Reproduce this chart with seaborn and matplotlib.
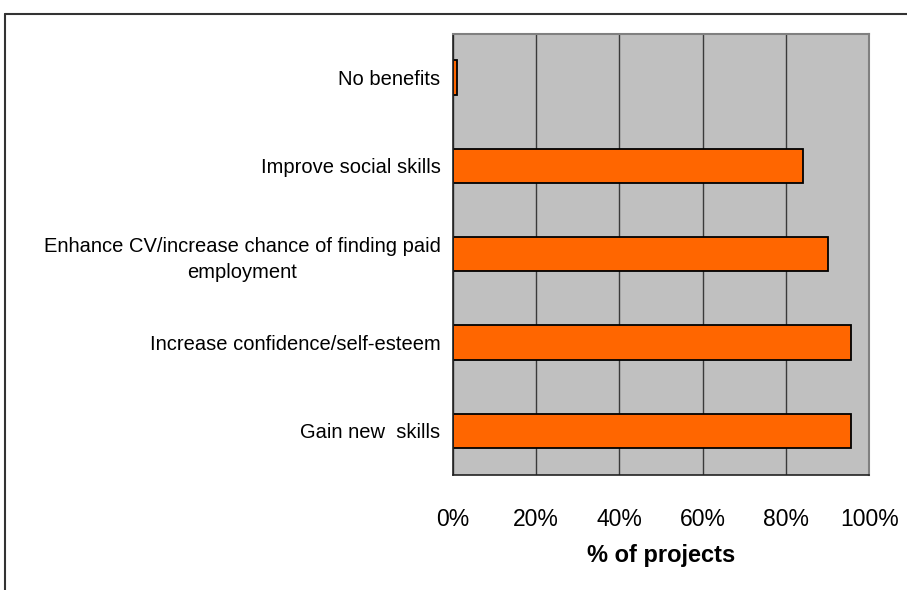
#! /usr/bin/env python3

import seaborn as sns
import pandas as pd
import numpy as np
import matplotlib
matplotlib.use('Agg')

import matplotlib.pyplot as plt
from matplotlib.lines import Line2D

benefits = ['No benefits',
            'Improve social skills',
            'Enhance CV/increase chance of finding paid\nemployment',
            'Increase confidence/self-esteem',
            'Gain new  skills']
percent = [1, 84, 90, 95.5, 95.5]
xticks = [0, 20, 40, 60, 80, 100]
xlabels = ['0%', '20%', '40%', '60%', '80%', '100%']


def plot_benefits(data):
    sns.set_style('white')
    plt.rcParams['font.family'] = ['Liberation Sans', 'DejaVu Sans']
    plt.rcParams['text.color'] = 'black'
    plt.rcParams['xtick.color'] = 'black'
    plt.rcParams['ytick.color'] = 'black'
    plt.rcParams['axes.labelcolor'] = 'black'
    fig = plt.figure(figsize=(9.07, 5.90), dpi=100)
    ax = fig.add_axes([0.4994, 0.1949, 0.459, 0.7483])
    ax.set_facecolor('#c0c0c0')
    ax.set_axisbelow(True)
    ax.xaxis.grid(True, color='#3a3a3a', linewidth=1)
    sns.barplot(x='percent', y='benefit', data=data, orient='h', ax=ax,
                color='#ff6600', saturation=1, width=0.39,
                edgecolor='black', linewidth=1.3)
    ax.set_xlim(0, 100)
    ax.set_ylim(4.5, -0.5)
    ax.set_xticks(xticks)
    ax.set_xticklabels(xlabels, fontsize=16.5, color='black')
    ax.tick_params(axis='x', length=7, width=1, pad=17, color='#222')
    ax.set_yticks(range(len(benefits)))
    ax.set_yticklabels(benefits, fontsize=14.5, color='black',
                       multialignment='center', linespacing=1.45)
    ax.set_yticks(np.arange(-0.5, len(benefits), 1), minor=True)
    ax.tick_params(axis='y', which='major', length=0, pad=9)
    ax.tick_params(axis='y', which='minor', length=5, width=1, color='#222')
    ax.set_ylabel('')
    ax.set_xlabel('% of projects', fontsize=17, fontweight='bold',
                  color='black', labelpad=9)
    for side in ['left', 'bottom']:
        ax.spines[side].set_color('#222')
        ax.spines[side].set_linewidth(1.2)
    for side in ['top', 'right']:
        ax.spines[side].set_color('#808080')
        ax.spines[side].set_linewidth(1.5)
    # outer chart frame, cut off at right and bottom
    fig.add_artist(Line2D([4.5 / 907, 1], [1 - 14 / 590, 1 - 14 / 590],
                          color='#333', linewidth=1.5, transform=fig.transFigure))
    fig.add_artist(Line2D([4.5 / 907, 4.5 / 907], [0, 1 - 14 / 590],
                          color='#333', linewidth=1.5, transform=fig.transFigure))
    fig.savefig('out.png', dpi=100)


if __name__ == '__main__':
    data = pd.DataFrame({'benefit': benefits, 'percent': percent})
    plot_benefits(data)
